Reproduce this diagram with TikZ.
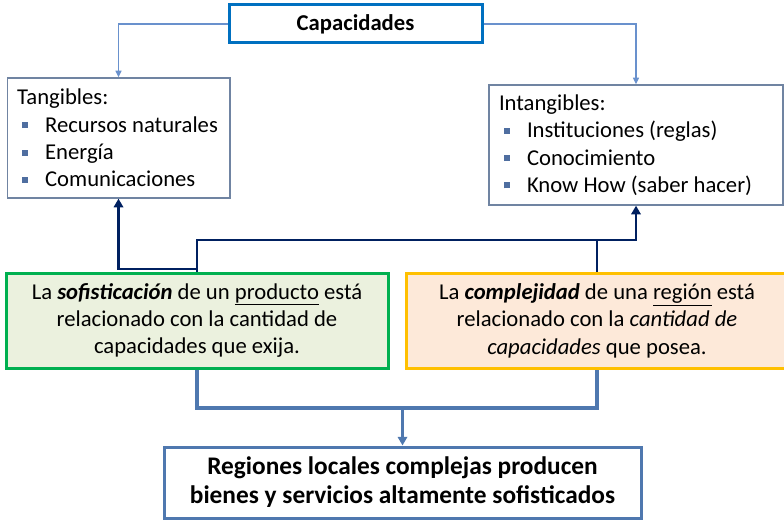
\documentclass[tikz,border=0pt]{standalone}
\usepackage{fontspec}
\setmainfont{Carlito}
\usepackage{xcolor}
\usetikzlibrary{arrows.meta}
\definecolor{capblue}{RGB}{0,112,192}
\definecolor{boxgray}{RGB}{112,132,162}
\definecolor{lightarrow}{RGB}{105,145,205}
\definecolor{navy}{RGB}{0,32,96}
\definecolor{steel}{RGB}{79,120,175}
\definecolor{bulletblue}{RGB}{79,110,160}
\definecolor{mygreen}{RGB}{0,176,80}
\definecolor{greenfill}{RGB}{235,241,222}
\definecolor{mygold}{RGB}{255,192,0}
\definecolor{goldfill}{RGB}{253,233,217}
\newcommand{\bul}{\makebox[21pt][l]{\hspace{3.5pt}\textcolor{bulletblue}{\rule[3pt]{4.5pt}{4.5pt}}}}
\tikzset{
  >={Triangle[length=6.5pt,width=7pt]},
  body/.style={font=\fontsize{17}{20.6}\selectfont,
    execute at begin node={\spaceskip=0pt\xspaceskip=0pt\relax}},
  list box/.style={body,draw=boxgray,line width=1pt,fill=white,align=left,
    inner xsep=7.5pt,minimum height=90pt},
  text box/.style={body,line width=2.25pt,align=center,minimum width=286.5pt,
    minimum height=71.25pt},
  thin arrow/.style={->,lightarrow,line width=1pt,>={Triangle[length=5pt,width=4.5pt]}},
  navy line/.style={navy,line width=2pt},
  steel line/.style={steel,line width=2.5pt}
}
\begin{document}
\begin{tikzpicture}[x=0.75pt,y=-0.75pt]
\clip (0,0) rectangle (784,520);

% Top node
\node[draw=capblue,line width=2.25pt,minimum width=189.75pt,minimum height=28.5pt,
  font=\fontsize{17}{20}\selectfont\bfseries] (cap) at (355.5,24) {Capacidades};

% -------- Tangibles --------
\node[list box,text width=152pt] (tang) at (118.5,138)
{Tangibles:\\ \bul Recursos naturales\\ \bul Energía\\ \bul Comunicaciones};

% -------- Intangibles --------
\node[list box,text width=205.5pt] (intang) at (636,145)
{Intangibles:\\ \bul Instituciones (reglas)\\ \bul Conocimiento\\ \bul Know How (saber hacer)};

% -------- Sofisticacion / Complejidad --------
\node[text box,draw=mygreen,fill=greenfill] (sof) at (197,320.5)
{La \textbf{\textit{sofisticación}} de un \underline{producto} está\\
relacionado con la cantidad de\\ capacidades que exija.};

\node[text box,draw=mygold,fill=goldfill] (comp) at (597,320.5)
{La \textbf{\textit{complejidad}} de una \underline{región} está\\
relacionado con la \textit{cantidad de}\\ \textit{capacidades} que posea.};

% Final result
\node[draw=steel,line width=2.25pt,fill=white,align=center,minimum width=357.75pt,
  minimum height=53.25pt,font=\fontsize{19}{21.8}\selectfont\bfseries] (final) at (402.5,482.5)
{Regiones locales complejas producen\\ bienes y servicios altamente sofisticados};

% Connections from Capacidades
\draw[thin arrow] (cap.west) -| (tang.north);
\draw[thin arrow] (cap.east) -| (intang.north);

% Arrows up to the lists
\coordinate (jtop) at (197,240);
\coordinate (jlow) at (197,269);
\draw[navy line,->] (sof.north) -- (jtop) -| (intang.south);
\draw[navy line] (comp.north) -- (comp.north |- jtop);
\draw[navy line,->] (jlow) -| (tang.south);

% Arrows down to the final box
\coordinate (bmid) at (402.5,408);
\draw[steel line] (sof.south) |- (bmid) -| (comp.south);
\draw[steel line,->] (bmid) -- (final.north);

\end{tikzpicture}
\end{document}
